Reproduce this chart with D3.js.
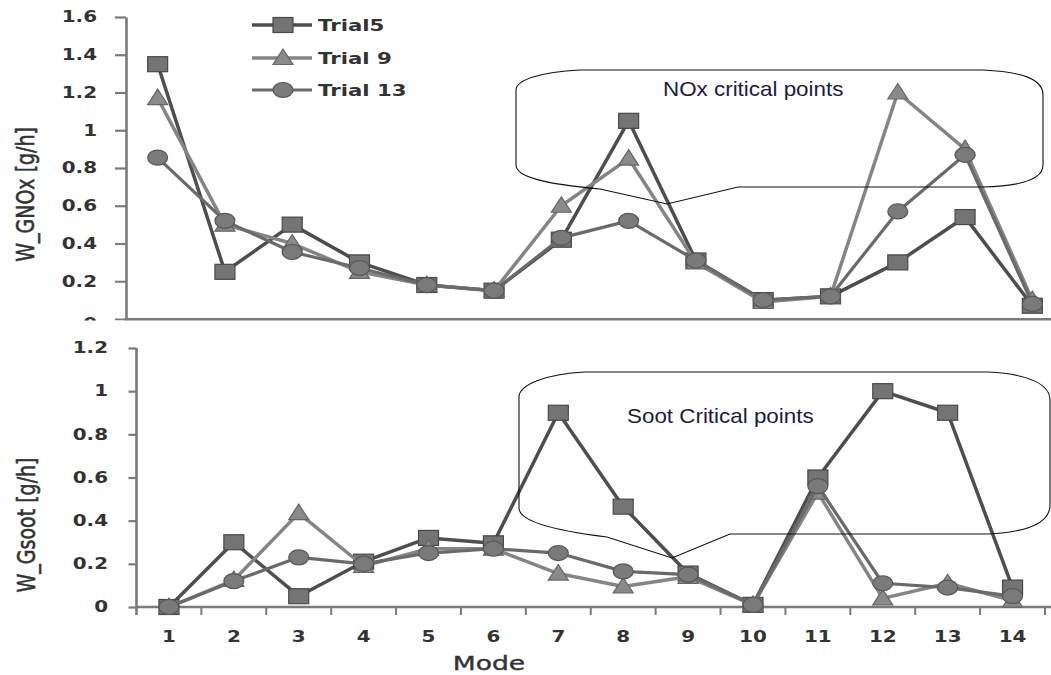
<!DOCTYPE html>
<html>
<head>
<meta charset="utf-8">
<script src="https://cdn.jsdelivr.net/npm/d3@7"></script>
<style>
  html, body { margin: 0; padding: 0; background: #fff; }
  svg { display: block; }
</style>
</head>
<body>
<svg id="chart" width="1051" height="675"></svg>
<script>
// ---------------- data ----------------
const modes = ["1","2","3","4","5","6","7","8","9","10","11","12","13","14"];
const seriesNames = ["Trial5", "Trial 9", "Trial 13"];

const noxTrial5  = [1.35, 0.25, 0.50, 0.30, 0.18, 0.15, 0.42, 1.05, 0.31, 0.10, 0.12, 0.30, 0.54, 0.07];
const noxTrial9  = [1.17, 0.50, 0.40, 0.25, 0.18, 0.15, 0.60, 0.85, 0.30, 0.09, 0.12, 1.20, 0.90, 0.10];
const noxTrial13 = [0.855, 0.52, 0.355, 0.27, 0.18, 0.15, 0.43, 0.52, 0.31, 0.10, 0.12, 0.57, 0.87, 0.08];

const sootTrial5  = [0.00, 0.30, 0.05, 0.21, 0.32, 0.295, 0.90, 0.465, 0.155, 0.01, 0.60, 1.00, 0.90, 0.09];
const sootTrial9  = [0.00, 0.125, 0.435, 0.19, 0.27, 0.27, 0.155, 0.095, 0.14, 0.01, 0.53, 0.04, 0.11, 0.03];
const sootTrial13 = [0.00, 0.12, 0.23, 0.20, 0.25, 0.27, 0.25, 0.165, 0.15, 0.01, 0.56, 0.11, 0.09, 0.05];

const noxTickValues  = [0, 0.2, 0.4, 0.6, 0.8, 1, 1.2, 1.4, 1.6];
const noxTickLabels  = ["0", "0.2", "0.4", "0.6", "0.8", "1", "1.2", "1.4", "1.6"];
const sootTickValues = [0, 0.2, 0.4, 0.6, 0.8, 1, 1.2];
const sootTickLabels = ["0", "0.2", "0.4", "0.6", "0.8", "1", "1.2"];

const noxTitle  = "W_GNOx [g/h]";
const sootTitle = "W_Gsoot [g/h]";
const xTitle    = "Mode";
const noxNote   = "NOx critical points";
const sootNote  = "Soot Critical points";

// ---------------- styles ----------------
const SX = 1.33;                 // horizontal stretch of the original picture
const axisColor = "#7a7a7a";
const textColor = "#333333";
const lineColors   = ["#4e4e4e", "#858585", "#6a6a6a"];
const markerFill   = ["#747474", "#8a8a8a", "#7a7a7a"];
const markerStroke = ["#484848", "#666666", "#585858"];
const lineWidths   = [3.5, 3.5, 3.2];
const markerTypes  = ["square", "triangle", "circle"];

const svg = d3.select("#chart");

function drawMarker(g, type, i, x, y) {
  if (type === "square") {
    g.append("rect").attr("x", x - 10).attr("y", y - 7.5).attr("width", 20).attr("height", 15)
      .attr("fill", markerFill[i]).attr("stroke", markerStroke[i]).attr("stroke-width", 1.2);
  } else if (type === "triangle") {
    g.append("path").attr("d", `M${x},${y - 9} L${x + 10},${y + 6.5} L${x - 10},${y + 6.5} Z`)
      .attr("fill", markerFill[i]).attr("stroke", markerStroke[i]).attr("stroke-width", 1.2);
  } else {
    g.append("ellipse").attr("cx", x).attr("cy", y).attr("rx", 10).attr("ry", 7.5)
      .attr("fill", markerFill[i]).attr("stroke", markerStroke[i]).attr("stroke-width", 1.2);
  }
}

function stretchText(sel, xOff) {
  sel.attr("transform", `scale(${SX},1)`);
  if (xOff !== undefined) sel.attr("x", xOff / SX);
}

// ================= TOP PANEL (NOx) =================
svg.append("clipPath").attr("id", "topClip")
  .append("rect").attr("x", 0).attr("y", 0).attr("width", 1051).attr("height", 320.5);

const topG = svg.append("g").attr("clip-path", "url(#topClip)");

const xTop = d3.scaleBand().domain(modes).range([124, 1066]);
const yTop = d3.scaleLinear().domain([0, 1.6]).range([319, 17]);

// x axis line
topG.append("g").attr("transform", `translate(0,${yTop(0)})`)
  .call(d3.axisBottom(xTop).tickSize(0).tickSizeOuter(0).tickFormat(""))
  .call(g => g.select(".domain").attr("stroke", axisColor).attr("stroke-width", 3))
  .call(g => g.selectAll(".tick").remove());

// y axis
const yAxTop = topG.append("g").attr("transform", "translate(126,0)")
  .call(d3.axisLeft(yTop).tickValues(noxTickValues)
    .tickFormat((d, i) => noxTickLabels[i]).tickSize(11).tickSizeOuter(0).tickPadding(18));
yAxTop.select(".domain").attr("stroke", axisColor).attr("stroke-width", 2.6);
yAxTop.selectAll(".tick line").attr("stroke", axisColor).attr("stroke-width", 2.2);
yAxTop.selectAll(".tick text")
  .attr("fill", textColor).attr("font-family", "DejaVu Sans").attr("font-weight", "bold")
  .attr("font-size", 15).call(s => stretchText(s, -29));
// the "0" label is partly hidden below the panel edge in the original
yAxTop.selectAll(".tick").filter(d => d === 0).select("text").attr("dy", "0.62em");

// series
const noxSeries = [noxTrial5, noxTrial9, noxTrial13];
const lineTop = d3.line().x((d, i) => xTop(modes[i]) + xTop.bandwidth() / 2).y(d => yTop(d));
noxSeries.forEach((vals, i) => {
  const g = topG.append("g");
  g.append("path").attr("d", lineTop(vals)).attr("fill", "none")
    .attr("stroke", lineColors[i]).attr("stroke-width", lineWidths[i]).attr("stroke-linejoin", "round");
  vals.forEach((v, j) => drawMarker(g, markerTypes[i], i, xTop(modes[j]) + xTop.bandwidth() / 2, yTop(v)));
});

// legend
const legendY = [25, 58, 90];
seriesNames.forEach((name, i) => {
  const g = topG.append("g");
  g.append("line").attr("x1", 252).attr("x2", 312).attr("y1", legendY[i]).attr("y2", legendY[i])
    .attr("stroke", lineColors[i]).attr("stroke-width", lineWidths[i]);
  drawMarker(g, markerTypes[i], i, 283, legendY[i]);
  g.append("text").attr("transform", `translate(318,${legendY[i] + 6}) scale(${SX},1)`)
    .attr("fill", textColor).attr("font-family", "DejaVu Sans").attr("font-weight", "bold")
    .attr("font-size", 16).text(name);
});

// y title
topG.append("text").attr("transform", `translate(34,${(yTop(0.3) + yTop(1.02)) / 2}) scale(${SX},1) rotate(-90)`)
  .attr("text-anchor", "middle").attr("fill", textColor).attr("stroke", textColor).attr("stroke-width", 0.45)
  .attr("font-family", "DejaVu Sans").attr("font-size", 19).text(noxTitle);

// callout
topG.append("path")
  .attr("d", "M580,70 L983,70 C1025,72 1043,80 1043,95 L1043,165 C1043,178 1025,186 983,187 L738,187 L667,204 L600,189 C545,184 516,177 516,165 L516,90 C516,80 540,72 580,70 Z")
  .attr("fill", "none").attr("stroke", "#111").attr("stroke-width", 1.1);
topG.append("text").attr("transform", `translate(663,96) scale(1.12,1)`)
  .attr("fill", "#1c1c40").attr("font-family", "Liberation Sans").attr("font-size", 20).text(noxNote);

// ================= BOTTOM PANEL (Soot) =================
const botG = svg.append("g");
const xBot = d3.scaleBand().domain(modes).range([136.5, 1045]);
const yBot = d3.scaleLinear().domain([0, 1.2]).range([607, 348]);

// x axis with labels at band centres
const xAxBot = botG.append("g").attr("transform", `translate(0,${yBot(0)})`)
  .call(d3.axisBottom(xBot).tickSize(0).tickSizeOuter(0).tickPadding(24));
xAxBot.select(".domain").attr("stroke", axisColor).attr("stroke-width", 2.6)
  .attr("d", `M${xBot.range()[0]},0H1051`);
xAxBot.selectAll(".tick text")
  .attr("fill", textColor).attr("font-family", "DejaVu Sans").attr("font-weight", "bold")
  .attr("font-size", 15).call(s => stretchText(s));
// tick marks between categories
botG.append("g").selectAll("line").data(modes.slice(1).concat(["end"])).join("line")
  .attr("x1", d => d === "end" ? xBot.range()[1] : xBot(d))
  .attr("x2", d => d === "end" ? xBot.range()[1] : xBot(d))
  .attr("y1", yBot(0)).attr("y2", yBot(0) + 8)
  .attr("stroke", axisColor).attr("stroke-width", 2);

// y axis
const yAxBot = botG.append("g").attr("transform", "translate(136.5,0)")
  .call(d3.axisLeft(yBot).tickValues(sootTickValues)
    .tickFormat((d, i) => sootTickLabels[i]).tickSize(8).tickSizeOuter(0).tickPadding(20));
yAxBot.select(".domain").attr("stroke", axisColor).attr("stroke-width", 2.6)
  .attr("d", `M0,${yBot(1.2)}V${yBot(0) + 8}`);
yAxBot.selectAll(".tick line").attr("stroke", axisColor).attr("stroke-width", 2.2);
yAxBot.selectAll(".tick text")
  .attr("fill", textColor).attr("font-family", "DejaVu Sans").attr("font-weight", "bold")
  .attr("font-size", 15).call(s => stretchText(s, -28.5));

// series
const sootSeries = [sootTrial5, sootTrial9, sootTrial13];
const lineBot = d3.line().x((d, i) => xBot(modes[i]) + xBot.bandwidth() / 2).y(d => yBot(d));
sootSeries.forEach((vals, i) => {
  const g = botG.append("g");
  g.append("path").attr("d", lineBot(vals)).attr("fill", "none")
    .attr("stroke", lineColors[i]).attr("stroke-width", lineWidths[i]).attr("stroke-linejoin", "round");
  vals.forEach((v, j) => drawMarker(g, markerTypes[i], i, xBot(modes[j]) + xBot.bandwidth() / 2, yBot(v)));
});

// titles
botG.append("text").attr("transform", `translate(35,${(yBot(0.06) + yBot(0.7)) / 2}) scale(${SX},1) rotate(-90)`)
  .attr("text-anchor", "middle").attr("fill", textColor).attr("stroke", textColor).attr("stroke-width", 0.45)
  .attr("font-family", "DejaVu Sans").attr("font-size", 19).text(sootTitle);
botG.append("text").attr("transform", `translate(489,670) scale(${SX},1)`)
  .attr("text-anchor", "middle").attr("fill", textColor).attr("stroke", textColor).attr("stroke-width", 0.4)
  .attr("font-family", "DejaVu Sans").attr("font-size", 20).text(xTitle);

// callout
botG.append("path")
  .attr("d", "M585,372 L988,372 C1030,374 1050,385 1050,400 L1050,505 C1050,522 1030,532 988,534 L730,534 L672,558 L607,537 C550,530 519,520 519,508 L519,397 C519,385 545,374 585,372 Z")
  .attr("fill", "none").attr("stroke", "#111").attr("stroke-width", 1.1);
botG.append("text").attr("transform", `translate(627,423) scale(1.12,1)`)
  .attr("fill", "#1c1c40").attr("font-family", "Liberation Sans").attr("font-size", 20).text(sootNote);
</script>
</body>
</html>
